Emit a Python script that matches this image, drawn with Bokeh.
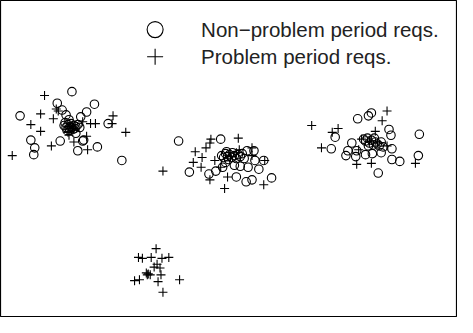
from bokeh.plotting import figure
from bokeh.embed import file_html
from bokeh.resources import INLINE
from bokeh.core.properties import value

# Non-problem period requests (circles)
nonprob_x = [76, 61, 99, 66, 91, 23, 70, 85, 73, 113, 80, 34, 64, 88, 87, 38, 37, 82, 102, 127,
             68, 70, 72, 73, 74, 75, 76, 77, 78, 79, 80, 82, 71, 74, 84, 69,
             185, 228, 196, 216, 223, 230, 233, 242, 255, 262, 252, 263, 272, 248, 256, 267, 244, 254, 260, 280,
             229, 231, 233, 235, 237, 239, 240, 242, 244, 246, 248, 236, 250, 234,
             368, 379, 382, 400, 402, 345, 431, 341, 362, 356, 366, 367, 376, 383, 392, 403, 403, 411, 430, 389, 358,
             374, 376, 378, 380, 382, 384, 386, 388, 390, 379, 385, 392, 394]
nonprob_y = [97, 109, 110, 116, 118, 122, 121, 123, 126, 130, 140, 147, 148, 147, 148, 155, 162, 158, 154, 168,
             132, 134, 131, 135, 133, 130, 134, 136, 132, 135, 133, 131, 137, 137, 134, 129,
             148, 146, 180, 182, 179, 175, 170, 173, 158, 158, 166, 168, 168, 174, 175, 177, 185, 190, 188, 186,
             163, 165, 161, 164, 162, 165, 160, 163, 166, 162, 164, 167, 161, 159,
             125, 122, 119, 136, 142, 144, 141, 156, 150, 163, 164, 158, 162, 161, 160, 156, 167, 169, 163, 181, 158,
             146, 148, 145, 150, 147, 152, 149, 151, 153, 153, 145, 149, 154]

# Problem period requests (crosses)
prob_x = [48, 60, 44, 57, 34, 44, 87, 95, 100, 118, 117, 131, 55, 15, 78, 92, 91, 73, 62, 74, 77, 72,
          169, 218, 217, 246, 202, 213, 209, 200, 208, 222, 228, 217, 232, 235, 272, 260, 260, 273, 247, 238, 244,
          321, 342, 348, 331, 398, 393, 386, 372, 367, 382, 427, 398, 369, 380, 388,
          162, 144, 148, 157, 168, 175, 163, 160, 166, 154, 152, 156, 153, 167, 140, 145, 164, 186, 169]
prob_y = [101, 115, 120, 125, 131, 138, 128, 130, 130, 122, 130, 139, 153, 163, 149, 157, 143, 142, 117, 133, 135, 139,
          179, 146, 150, 145, 159, 155, 165, 170, 175, 168, 175, 188, 197, 185, 193, 155, 163, 168, 157, 164, 160,
          132, 139, 135, 155, 117, 127, 138, 146, 172, 171, 171, 153, 157, 148, 150,
          259, 268, 269, 268, 269, 268, 275, 278, 279, 285, 284, 286, 286, 286, 292, 291, 293, 291, 304]

legend_labels = ["Non\u2212problem period reqs.", "Problem period reqs."]

p = figure(width=457, height=317, x_range=(3, 470), y_range=(330, 3),
           output_backend="svg", toolbar_location=None,
           x_axis_type=None, y_axis_type=None, min_border=0)
p.xgrid.visible = False
p.ygrid.visible = False
p.outline_line_color = "black"
p.outline_line_width = 1.2
p.background_fill_color = "white"
p.border_fill_color = "white"

p.scatter(nonprob_x, nonprob_y, marker="circle", size=8.5, fill_color=None,
          line_color="black", line_width=1.1)
p.scatter(prob_x, prob_y, marker="cross", size=9, line_color="black", line_width=1.1)

# legend (manual)
p.scatter([161], [33], marker="circle", size=16, fill_color=None, line_color="black", line_width=1.1)
p.scatter([161], [61], marker="cross", size=16, line_color="black", line_width=1.1)
p.text([208, 208], [33, 61], text=legend_labels, text_font=value("Liberation Sans"),
       text_font_size="20.5px", text_baseline="middle", text_align="left", text_color="#222222")

open("out.html", "w").write(file_html(p, INLINE))
